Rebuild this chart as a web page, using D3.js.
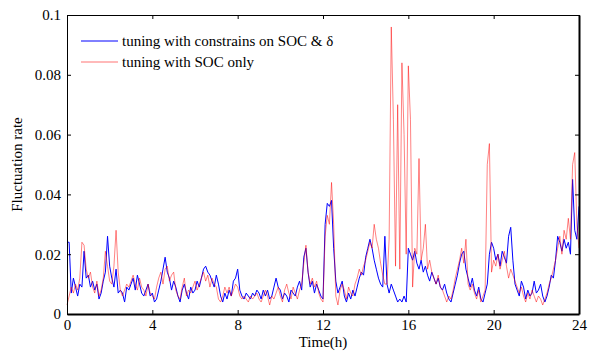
<!DOCTYPE html>
<style>
body { margin: 0; background: #fff; }
text { font-family: "Liberation Serif", "Times New Roman", serif; fill: #000; }
</style>
<svg width="589" height="351"></svg>
<script src="https://d3js.org/d3.v7.min.js"></script>
<script>

// time step of the sampled series (hours)
var step = 0.1;

var xTicks = [0, 4, 8, 12, 16, 20, 24];
var yTicks = [0, 0.02, 0.04, 0.06, 0.08, 0.1];
var yTickLabels = ["0", "0.02", "0.04", "0.06", "0.08", "0.1"];
var seriesNames = ["tuning with constrains on SOC & \u03b4", "tuning with SOC only"];

// blue: tuning with constrains on SOC & delta
var blueValues = [
  0.024, 0.024, 0.007, 0.012, 0.009, 0.006, 0.010, 0.009, 0.021, 0.012,
  0.013, 0.009, 0.011, 0.008, 0.010, 0.005, 0.007, 0.011, 0.014, 0.026,
  0.016, 0.012, 0.009, 0.015, 0.007, 0.008, 0.007, 0.004, 0.009, 0.008,
  0.010, 0.012, 0.008, 0.013, 0.010, 0.007, 0.006, 0.008, 0.010, 0.006,
  0.007, 0.004, 0.005, 0.008, 0.011, 0.015, 0.019, 0.014, 0.012, 0.008,
  0.011, 0.009, 0.006, 0.004, 0.008, 0.010, 0.007, 0.005, 0.009, 0.007,
  0.008, 0.011, 0.009, 0.012, 0.015, 0.016, 0.014, 0.013, 0.011, 0.009,
  0.013, 0.010, 0.006, 0.004, 0.007, 0.005, 0.008, 0.006, 0.011, 0.012,
  0.015, 0.008, 0.006, 0.005, 0.007, 0.006, 0.005, 0.007, 0.006, 0.008,
  0.007, 0.005, 0.008, 0.006, 0.008, 0.005, 0.006, 0.009, 0.012, 0.009,
  0.008, 0.005, 0.007, 0.006, 0.004, 0.008, 0.007, 0.006, 0.009, 0.011,
  0.008, 0.019, 0.022, 0.014, 0.009, 0.011, 0.007, 0.010, 0.008, 0.006,
  0.005, 0.030, 0.037, 0.036, 0.038, 0.022, 0.011, 0.007, 0.009, 0.011,
  0.006, 0.004, 0.007, 0.005, 0.008, 0.006, 0.009, 0.012, 0.014, 0.013,
  0.019, 0.022, 0.025, 0.022, 0.018, 0.015, 0.012, 0.010, 0.009, 0.026,
  0.010, 0.007, 0.010, 0.008, 0.006, 0.004, 0.005, 0.004, 0.006, 0.004,
  0.022, 0.020, 0.018, 0.021, 0.017, 0.015, 0.018, 0.014, 0.016, 0.013,
  0.011, 0.014, 0.012, 0.010, 0.012, 0.009, 0.008, 0.010, 0.007, 0.005,
  0.004, 0.007, 0.010, 0.013, 0.017, 0.020, 0.021, 0.015, 0.012, 0.009,
  0.012, 0.008, 0.006, 0.009, 0.005, 0.004, 0.007, 0.010, 0.020, 0.024,
  0.022, 0.018, 0.020, 0.016, 0.021, 0.019, 0.017, 0.026, 0.029, 0.018,
  0.010, 0.008, 0.006, 0.011, 0.009, 0.005, 0.008, 0.006, 0.007, 0.011,
  0.007, 0.008, 0.010, 0.006, 0.004, 0.006, 0.009, 0.013, 0.012, 0.018,
  0.026, 0.024, 0.021, 0.025, 0.022, 0.024, 0.020, 0.045, 0.028, 0.025,
  0.036
];

// red: tuning with SOC only
var redValues = [
  0.003, 0.006, 0.009, 0.007, 0.010, 0.008, 0.012, 0.024, 0.023, 0.015,
  0.012, 0.014, 0.009, 0.007, 0.011, 0.006, 0.008, 0.012, 0.021, 0.016,
  0.011, 0.010, 0.016, 0.028, 0.014, 0.008, 0.006, 0.008, 0.010, 0.009,
  0.011, 0.013, 0.010, 0.008, 0.012, 0.009, 0.008, 0.006, 0.010, 0.007,
  0.006, 0.005, 0.009, 0.012, 0.014, 0.010, 0.015, 0.016, 0.011, 0.013,
  0.014, 0.008, 0.006, 0.005, 0.009, 0.012, 0.006, 0.008, 0.007, 0.009,
  0.011, 0.008, 0.010, 0.012, 0.014, 0.011, 0.013, 0.009, 0.012, 0.010,
  0.009, 0.005, 0.004, 0.006, 0.009, 0.007, 0.009, 0.006, 0.008, 0.010,
  0.009, 0.006, 0.005, 0.006, 0.005, 0.004, 0.006, 0.005, 0.006, 0.007,
  0.005, 0.004, 0.006, 0.008, 0.006, 0.003, 0.006, 0.005, 0.007, 0.009,
  0.006, 0.004, 0.008, 0.010, 0.007, 0.005, 0.009, 0.007, 0.005, 0.008,
  0.010, 0.017, 0.023, 0.014, 0.010, 0.012, 0.009, 0.011, 0.007, 0.005,
  0.004, 0.026, 0.033, 0.030, 0.044, 0.030, 0.006, 0.003, 0.008, 0.010,
  0.008, 0.005, 0.009, 0.007, 0.006, 0.010, 0.012, 0.015, 0.013, 0.016,
  0.018, 0.021, 0.024, 0.022, 0.030, 0.025, 0.022, 0.017, 0.013, 0.010,
  0.010, 0.025, 0.096, 0.065, 0.016, 0.070, 0.015, 0.084, 0.060, 0.020,
  0.083, 0.065, 0.009, 0.022, 0.020, 0.052, 0.018, 0.022, 0.030, 0.015,
  0.018, 0.014, 0.012, 0.010, 0.013, 0.009, 0.008, 0.006, 0.004, 0.006,
  0.005, 0.008, 0.012, 0.015, 0.018, 0.022, 0.017, 0.025, 0.010, 0.008,
  0.010, 0.007, 0.005, 0.008, 0.004, 0.006, 0.008, 0.050, 0.057, 0.014,
  0.018, 0.016, 0.020, 0.015, 0.018, 0.021, 0.016, 0.012, 0.015, 0.013,
  0.011, 0.009, 0.007, 0.009, 0.006, 0.004, 0.007, 0.005, 0.008, 0.006,
  0.004, 0.006, 0.005, 0.003, 0.005, 0.007, 0.010, 0.012, 0.015, 0.018,
  0.022, 0.026, 0.020, 0.028, 0.025, 0.032, 0.025, 0.050, 0.054, 0.030,
  0.022
];

var svg = d3.select("svg"),
    margin = {top: 15, right: 10, bottom: 37, left: 67},
    width = +svg.attr("width") - margin.left - margin.right,
    height = +svg.attr("height") - margin.top - margin.bottom;

var g = svg.append("g").attr("transform", "translate(" + margin.left + "," + margin.top + ")");

var x = d3.scaleLinear().domain([0, 24]).range([0, width]);
var y = d3.scaleLinear().domain([0, 0.1]).range([height, 0]);

var line = d3.line()
    .x(function(d, i) { return x(i * step); })
    .y(function(d) { return y(d); });

g.append("path")
    .datum(blueValues)
    .attr("fill", "none")
    .attr("stroke", "#0000ff")
    .attr("stroke-width", 1)
    .attr("d", line);

g.append("path")
    .datum(redValues)
    .attr("fill", "none")
    .attr("stroke", "#ff0000")
    .attr("stroke-opacity", 0.55)
    .attr("stroke-width", 0.9)
    .attr("d", line);

// axes, ticks point inward
var xAxis = g.append("g")
    .attr("transform", "translate(0," + height + ")")
    .call(d3.axisBottom(x).tickValues(xTicks).tickSizeInner(-4).tickSizeOuter(0).tickPadding(5));
var yAxis = g.append("g")
    .call(d3.axisLeft(y).tickValues(yTicks).tickFormat(function(d, i) { return yTickLabels[i]; })
      .tickSizeInner(-4).tickSizeOuter(0).tickPadding(6));
var xTop = g.append("g")
    .call(d3.axisTop(x).tickValues(xTicks).tickSizeInner(-4).tickSizeOuter(0).tickFormat(""));
var yRight = g.append("g")
    .attr("transform", "translate(" + width + ",0)")
    .call(d3.axisRight(y).tickValues(yTicks).tickSizeInner(-4).tickSizeOuter(0).tickFormat(""));

svg.selectAll(".tick text").attr("font-size", 15).attr("font-family", "Liberation Serif");
svg.selectAll(".domain").attr("stroke", "#000");
xAxis.select(".domain").attr("stroke-width", 2);
yRight.select(".domain").attr("stroke-width", 2);

svg.append("text")
    .attr("x", margin.left + width / 2)
    .attr("y", 347)
    .attr("text-anchor", "middle")
    .attr("font-size", 15)
    .text("Time(h)");

svg.append("text")
    .attr("transform", "translate(22," + (margin.top + height / 2) + ") rotate(-90)")
    .attr("text-anchor", "middle")
    .attr("font-size", 15)
    .text("Fluctuation rate");

// legend
var legendColors = ["#0000ff", "#ff0000"];
var legend = g.selectAll(".legend")
    .data(seriesNames)
    .enter().append("g")
    .attr("transform", function(d, i) { return "translate(14," + (26 + i * 21) + ")"; });

legend.append("line")
    .attr("x1", 0).attr("x2", 37)
    .attr("stroke", function(d, i) { return legendColors[i]; })
    .attr("stroke-opacity", function(d, i) { return i ? 0.55 : 1; });

legend.append("text")
    .attr("x", 41)
    .attr("dy", "0.32em")
    .attr("font-size", 15)
    .text(function(d) { return d; });

</script>
